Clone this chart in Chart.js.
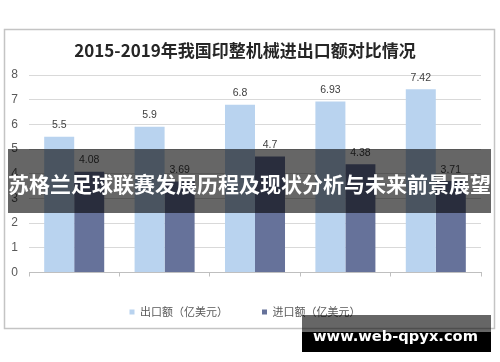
<!DOCTYPE html>
<html>
<head>
<meta charset="utf-8">
<script src="https://cdn.jsdelivr.net/npm/chart.js"></script>
<style>
  html, body { margin: 0; padding: 0; background: #fff; }
</style>
</head>
<body>
<canvas id="myChart" width="500" height="362"></canvas>
<script>
const years = ['2015', '2016', '2017', '2018', '2019'];
const exportValues = [5.5, 5.9, 6.8, 6.93, 7.42];
const importValues = [4.08, 3.69, 4.7, 4.38, 3.71];
const seriesNames = ['出口额（亿美元）', '进口额（亿美元）'];
const chartTitle = '2015-2019年我国印整机械进出口额对比情况';
const bannerText = '苏格兰足球联赛发展历程及现状分析与未来前景展望';
const watermarkText = 'www.web-qpyx.com';

const cjk = '"Noto Sans CJK SC", "Noto Sans", sans-serif';

// white page + thin grey frame round the chart
const framePlugin = {
  id: 'frame',
  beforeDraw(chart) {
    const ctx = chart.ctx;
    ctx.save();
    ctx.fillStyle = '#fff';
    ctx.fillRect(0, 0, chart.width, chart.height);
    ctx.strokeStyle = '#c4c4c4';
    ctx.lineWidth = 1.5;
    ctx.strokeRect(4.5, 29.5, 490, 299);
    ctx.restore();
  }
};

// value labels above each bar
const valueLabels = {
  id: 'valueLabels',
  afterDatasetsDraw(chart) {
    const ctx = chart.ctx;
    ctx.save();
    ctx.font = '10.5px "Liberation Sans", Arial, sans-serif';
    ctx.fillStyle = '#404040';
    ctx.textAlign = 'center';
    ctx.textBaseline = 'bottom';
    chart.data.datasets.forEach((ds, i) => {
      chart.getDatasetMeta(i).data.forEach((bar, j) => {
        ctx.fillText(String(ds.data[j]), bar.x, bar.y - 6);
      });
    });
    ctx.restore();
  }
};

// the grey banner across the middle and the site stamp in the corner
const overlays = {
  id: 'overlays',
  afterDraw(chart) {
    const ctx = chart.ctx;
    ctx.save();
    ctx.fillStyle = 'rgba(0,0,0,0.6)';
    ctx.fillRect(8, 149, 483, 64);
    ctx.fillStyle = '#fff';
    ctx.font = 'bold 21px ' + cjk;
    ctx.textAlign = 'center';
    ctx.textBaseline = 'middle';
    ctx.fillText(bannerText, 249.5, 184);

    ctx.fillStyle = 'rgba(0,0,0,0.6)';
    ctx.fillRect(302, 315, 189, 17);
    ctx.fillStyle = '#000';
    ctx.fillRect(302, 332, 189, 20);
    ctx.font = 'bold 20px "DejaVu Sans", sans-serif';
    const w = ctx.measureText(watermarkText).width;
    const size = 20 * 165 / w;
    ctx.font = 'bold ' + size.toFixed(2) + 'px "DejaVu Sans", sans-serif';
    ctx.fillStyle = '#fff';
    ctx.fillText(watermarkText, 395.5, 337);
    ctx.restore();
  }
};

new Chart(document.getElementById('myChart'), {
  type: 'bar',
  data: {
    labels: years,
    datasets: [
      { label: seriesNames[0], data: exportValues, backgroundColor: '#b9d3ef', borderWidth: 0 },
      { label: seriesNames[1], data: importValues, backgroundColor: '#66729a', borderWidth: 0 }
    ]
  },
  options: {
    responsive: false,
    animation: false,
    devicePixelRatio: 1,
    layout: { padding: { left: 9, right: 19, top: 40.4, bottom: 34.5 } },
    datasets: { bar: { categoryPercentage: 0.664, barPercentage: 1.0 } },
    scales: {
      x: {
        grid: { offset: true, drawOnChartArea: false, drawTicks: true, tickLength: 4, color: '#bfbfbf' },
        border: { color: '#bfbfbf' },
        ticks: { color: '#595959', padding: 5, font: { family: '"Liberation Sans", Arial, sans-serif', size: 12 } },
        afterFit: s => { s.height = 0; }
      },
      y: {
        min: 0,
        max: 8,
        ticks: { stepSize: 1, color: '#595959', padding: 11, font: { family: '"Liberation Sans", Arial, sans-serif', size: 12 } },
        grid: { color: '#d9d9d9', drawTicks: false },
        border: { display: false },
        afterFit: s => { s.width = 20; }
      }
    },
    plugins: {
      title: {
        display: true,
        text: chartTitle,
        color: '#262626',
        font: { family: cjk, size: 17, weight: 'bold', lineHeight: 1.2 },
        padding: { top: 0, bottom: 14.2 }
      },
      legend: {
        position: 'bottom',
        labels: {
          boxWidth: 5,
          boxHeight: 5,
          padding: 34,
          color: '#595959',
          font: { family: cjk, size: 11 }
        }
      },
      tooltip: { enabled: false }
    }
  },
  plugins: [framePlugin, valueLabels, overlays]
});
</script>
</body>
</html>
